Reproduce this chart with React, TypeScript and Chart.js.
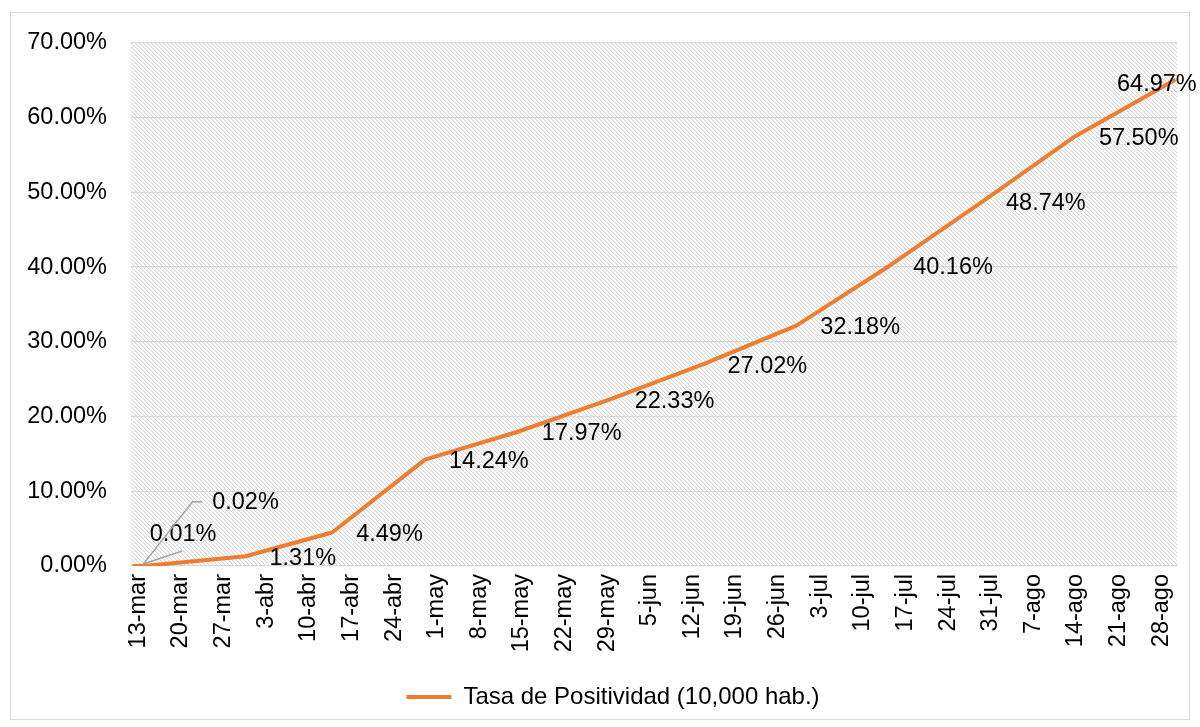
import React, { useEffect, useRef } from 'react';
import { Chart, registerables } from 'chart.js';

Chart.register(...registerables);

// ---- data ----
const dateLabels = [
  '13-mar', '20-mar', '27-mar', '3-abr', '10-abr', '17-abr', '24-abr', '1-may', '8-may',
  '15-may', '22-may', '29-may', '5-jun', '12-jun', '19-jun', '26-jun', '3-jul', '10-jul',
  '17-jul', '24-jul', '31-jul', '7-ago', '14-ago', '21-ago', '28-ago',
];
// days after 13-mar for each axis label (weekly)
const dateLabelDays = [
  0, 7, 14, 21, 28, 35, 42, 49, 56, 63, 70, 77, 84, 91, 98, 105, 112, 119, 126, 133, 140, 147, 154, 161, 168,
];
// days after 13-mar of each measurement
const pointDays = [0, 2, 18, 32, 47, 62, 77, 92, 107, 122, 137, 152, 168];
// positivity rate (%)
const positivity = [0.01, 0.02, 1.31, 4.49, 14.24, 17.97, 22.33, 27.02, 32.18, 40.16, 48.74, 57.5, 64.97];
const yTickValues = [0, 10, 20, 30, 40, 50, 60, 70];
const seriesName = 'Tasa de Positividad (10,000 hab.)';

// ---- styling ----
const FONT = "'Liberation Sans', Arial, sans-serif";
const ORANGE = '#ED7D31';
const TEXT = '#000000';

type Placement =
  | { mode: 'right' }
  | { mode: 'free'; dx: number; dy: number; leader?: number[][] };

const labelPlacement: Placement[] = [
  { mode: 'free', dx: 49, dy: -31, leader: [[48, -15], [9, -2]] },
  { mode: 'free', dx: 99, dy: -63, leader: [[56, -64], [46, -64], [-3, -2]] },
  { mode: 'right' }, { mode: 'right' }, { mode: 'right' }, { mode: 'right' }, { mode: 'right' },
  { mode: 'right' }, { mode: 'right' }, { mode: 'right' }, { mode: 'right' }, { mode: 'right' },
  { mode: 'free', dx: -17, dy: 4 },
];

function makeHatch(): CanvasPattern | string {
  const c = document.createElement('canvas');
  c.width = 8;
  c.height = 8;
  const g = c.getContext('2d');
  if (!g) return '#f0f0f0';
  g.fillStyle = '#ffffff';
  g.fillRect(0, 0, 8, 8);
  for (let y = 0; y < 8; y++) {
    for (let x = 0; x < 8; x++) {
      const d = (((x - y) % 4) + 4) % 4;
      if (d === 0) {
        g.fillStyle = '#d9d9d9';
        g.fillRect(x, y, 1, 1);
      } else if (d === 1) {
        g.fillStyle = '#f1f1f1';
        g.fillRect(x, y, 1, 1);
      }
    }
  }
  const p = g.createPattern(c, 'repeat');
  return p || '#f0f0f0';
}

const hatchPlugin = {
  id: 'hatchBg',
  beforeDraw(chart: any) {
    const { ctx, chartArea } = chart;
    if (!chartArea) return;
    ctx.save();
    ctx.fillStyle = makeHatch();
    ctx.fillRect(chartArea.left, chartArea.top, chartArea.right - chartArea.left, chartArea.bottom - chartArea.top);
    ctx.restore();
  },
};

const dataLabelPlugin = {
  id: 'pointLabels',
  afterDatasetsDraw(chart: any) {
    const meta = chart.getDatasetMeta(0);
    const { ctx } = chart;
    ctx.save();
    ctx.font = `23.5px ${FONT}`;
    ctx.fillStyle = TEXT;
    ctx.textBaseline = 'middle';
    meta.data.forEach((el: any, i: number) => {
      const txt = positivity[i].toFixed(2) + '%';
      const pl = labelPlacement[i];
      if (pl.mode === 'right') {
        ctx.textAlign = 'left';
        ctx.fillText(txt, el.x + 24, el.y + 2);
      } else {
        if (pl.leader) {
          ctx.save();
          ctx.strokeStyle = '#a6a6a6';
          ctx.lineWidth = 1.5;
          ctx.beginPath();
          pl.leader.forEach((p, k) => {
            if (k === 0) ctx.moveTo(el.x + p[0], el.y + p[1]);
            else ctx.lineTo(el.x + p[0], el.y + p[1]);
          });
          ctx.stroke();
          ctx.restore();
        }
        ctx.textAlign = 'center';
        ctx.fillText(txt, el.x + pl.dx, el.y + pl.dy);
      }
    });
    ctx.restore();
  },
};

export default function App() {
  const canvasRef = useRef<HTMLCanvasElement | null>(null);

  useEffect(() => {
    if (!canvasRef.current) return;
    const chart = new Chart(canvasRef.current, {
      type: 'line',
      data: {
        datasets: [
          {
            label: seriesName,
            data: pointDays.map((d, i) => ({ x: d, y: positivity[i] })),
            borderColor: ORANGE,
            backgroundColor: ORANGE,
            borderWidth: 4,
            pointRadius: 0,
            pointHoverRadius: 0,
            tension: 0,
            fill: false,
            borderJoinStyle: 'round',
            borderCapStyle: 'round',
            xAxisID: 'x',
            yAxisID: 'y',
          } as any,
        ],
      },
      options: {
        responsive: false,
        animation: false,
        events: [],
        layout: { padding: { top: 43, left: 27, right: 1, bottom: 8 } },
        scales: {
          x: {
            type: 'linear',
            display: false,
            min: -0.5,
            max: 168.5,
            bounds: 'data',
          },
          xl: {
            type: 'linear',
            position: 'bottom',
            min: -1.2,
            max: 170.6,
            bounds: 'data',
            grid: { display: false, drawTicks: false },
            border: { display: false },
            afterBuildTicks: (axis: any) => {
              axis.ticks = dateLabelDays.map((v) => ({ value: v }));
            },
            afterFit: (axis: any) => {
              axis.height = 109;
            },
            ticks: {
              autoSkip: false,
              maxRotation: 90,
              minRotation: 90,
              padding: 8,
              color: TEXT,
              font: { family: FONT, size: 23.5 },
              callback: (_v: any, idx: number) => dateLabels[idx],
            },
          },
          y: {
            type: 'linear',
            min: 0,
            max: 70,
            bounds: 'data',
            afterBuildTicks: (axis: any) => {
              axis.ticks = yTickValues.map((v) => ({ value: v }));
            },
            afterFit: (axis: any) => {
              axis.width = 104;
            },
            grid: { color: '#d9d9d9', lineWidth: 1.3, drawTicks: false },
            border: { display: false },
            ticks: {
              padding: 24,
              color: TEXT,
              font: { family: FONT, size: 23.5 },
              callback: (v: any) => Number(v).toFixed(2) + '%',
            },
          },
          yr: {
            type: 'linear',
            position: 'right',
            min: 0,
            max: 1,
            grid: { display: false, drawTicks: false },
            border: { display: false },
            ticks: { display: false },
            afterFit: (axis: any) => {
              axis.width = 22;
            },
          },
        } as any,
        plugins: {
          tooltip: { enabled: false },
          legend: {
            display: true,
            position: 'bottom',
            labels: {
              color: TEXT,
              font: { family: FONT, size: 24 },
              boxWidth: 45,
              boxHeight: 4,
              padding: 10,
              generateLabels: (ch: any) =>
                Chart.defaults.plugins.legend.labels.generateLabels(ch).map((l: any) => ({
                  ...l,
                  fillStyle: ORANGE,
                  strokeStyle: ORANGE,
                  lineWidth: 0,
                })),
            },
          },
        },
      },
      plugins: [hatchPlugin, dataLabelPlugin],
    });
    return () => chart.destroy();
  }, []);

  return (
    <div style={{ position: 'fixed', left: 0, top: 0, width: 1200, height: 727, background: '#ffffff' }}>
      <div
        style={{
          position: 'absolute',
          left: 10,
          top: 12,
          width: 1180,
          height: 708,
          border: '1px solid #d9d9d9',
          boxSizing: 'border-box',
        }}
      />
      <canvas
        ref={canvasRef}
        width={1200}
        height={727}
        style={{ position: 'absolute', left: 0, top: 0, width: 1200, height: 727, display: 'block' }}
      />
    </div>
  );
}
